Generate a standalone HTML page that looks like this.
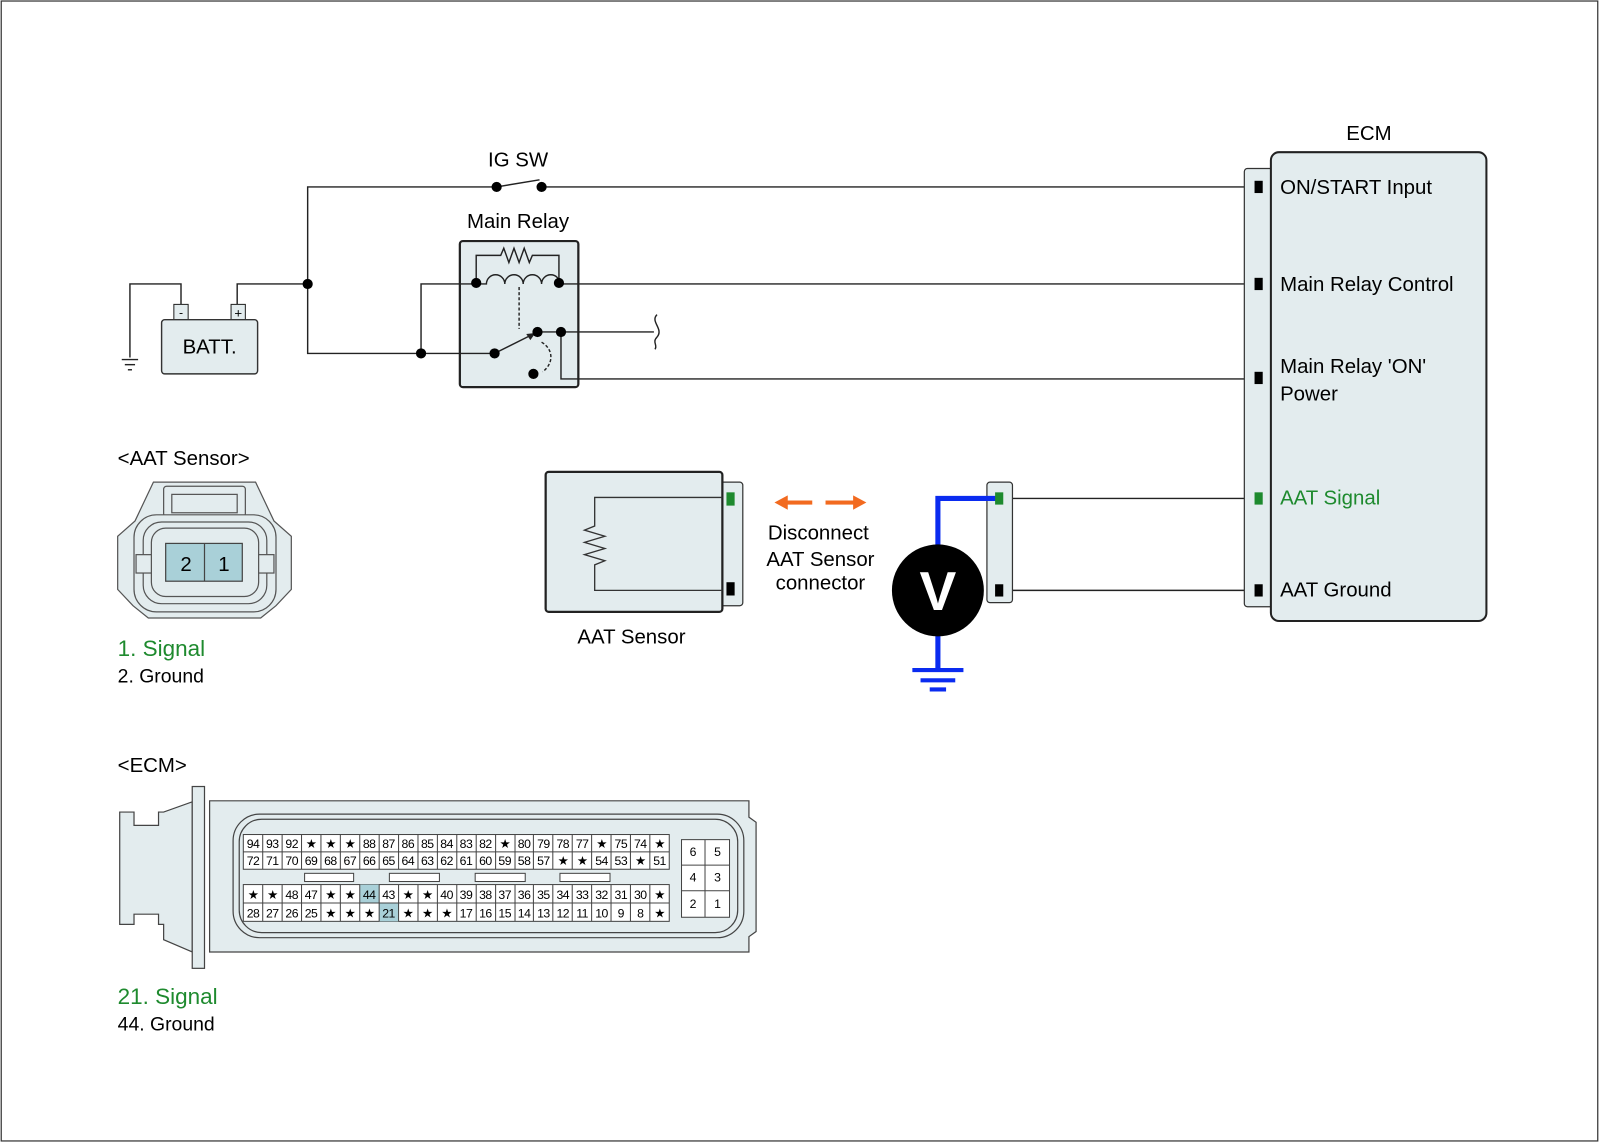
<!DOCTYPE html>
<html><head><meta charset="utf-8"><style>html,body{margin:0;padding:0;background:#fff}svg{display:block}</style></head><body>
<svg width="1600" height="1143" viewBox="0 0 1566 1119" xmlns="http://www.w3.org/2000/svg" font-family="Liberation Sans, Arial, sans-serif">
<rect x="1" y="1" width="1563" height="1116" fill="#fff" stroke="#333" stroke-width="1.2"/>
<!-- relay box first -->
<rect x="450" y="236" width="116" height="143" rx="3" fill="#e3ecee" stroke="#222" stroke-width="2.2"/>
<g stroke="#222" stroke-width="1.4" fill="none">
<path d="M486,183 H301 V346 H484"/>
<path d="M530,183 H1228"/>
<path d="M486,183 L528,176"/>
<path d="M232,298 V278 H301"/>
<path d="M177,298 V278 H127 V350"/>
<path d="M412,346 V278 H466"/>
<path d="M547,278 H1228"/>
<path d="M549,325 H640"/>
<path d="M643,308 C636,315 650,322 643,330 C638,335 644,338 641,342"/>
<path d="M549,325 V371 H1228"/>
<path d="M982,488 H1228 M982,578 H1228"/>
<path d="M466,277 V250 H490 l3,-7 l5,14 l5,-14 l5,14 l5,-14 l5,14 l3,-7 H547 V277"/>
<path d="M466,278 H476 a9,9 0 0 1 18,0 a9,9 0 0 1 18,0 a9,9 0 0 1 18,0 a9,9 0 0 1 18,0 H547"/>
<path d="M508,281 V322" stroke-dasharray="3,2"/>
<path d="M530,335 C542,342 542,356 531,364" stroke-dasharray="3,2"/>
<path d="M484,346 L522,327"/>
<path d="M549,325 H526"/>
</g>
<g stroke="#222" stroke-width="1.4"><line x1="119" y1="352" x2="135" y2="352"/><line x1="122" y1="357" x2="132" y2="357"/><line x1="125" y1="362" x2="129" y2="362"/></g>
<rect x="170" y="298" width="14" height="15" fill="#e3ecee" stroke="#222"/>
<rect x="226" y="298" width="14" height="15" fill="#e3ecee" stroke="#222"/>
<text x="177" y="310" font-size="12" text-anchor="middle">-</text>
<text x="233" y="311" font-size="13" text-anchor="middle">+</text>
<rect x="158" y="313" width="94" height="53" rx="3" fill="#e3ecee" stroke="#333" stroke-width="1.4"/>
<text x="205" y="346" font-size="20" text-anchor="middle">BATT.</text>
<text x="507" y="163" font-size="20" text-anchor="middle">IG SW</text>
<text x="507" y="223" font-size="20" text-anchor="middle">Main Relay</text>
<path d="M524,326 l-9,1 l4,6 z" fill="#222"/>
<g fill="#000">
<circle cx="301" cy="278" r="5"/><circle cx="412" cy="346" r="5"/>
<circle cx="486" cy="183" r="5"/><circle cx="530" cy="183" r="5"/>
<circle cx="466" cy="277" r="5"/><circle cx="547" cy="277" r="5"/>
<circle cx="484" cy="346" r="5"/><circle cx="526" cy="325" r="5"/><circle cx="549" cy="325" r="5"/><circle cx="522" cy="366" r="5"/>
</g>
<!-- ECM -->
<text x="1340" y="137" font-size="20" text-anchor="middle">ECM</text>
<rect x="1218" y="165" width="28" height="429" rx="3" fill="#e3ecee" stroke="#333" stroke-width="1.2"/>
<rect x="1244" y="149" width="211" height="459" rx="8" fill="#e3ecee" stroke="#222" stroke-width="2"/>
<g fill="#000"><rect x="1228" y="177" width="8" height="12"/><rect x="1228" y="272" width="8" height="12"/><rect x="1228" y="364" width="8" height="12"/><rect x="1228" y="572" width="8" height="12"/></g>
<rect x="1228" y="482" width="8" height="12" fill="#1e8a2e"/>
<g font-size="20"><text x="1253" y="190">ON/START Input</text><text x="1253" y="285">Main Relay Control</text><text x="1253" y="365">Main Relay 'ON'</text><text x="1253" y="392">Power</text><text x="1253" y="494" fill="#1e8a2e">AAT Signal</text><text x="1253" y="584">AAT Ground</text></g>
<!-- AAT sensor -->
<rect x="705" y="472" width="22" height="121" rx="3" fill="#e3ecee" stroke="#333" stroke-width="1.2"/>
<rect x="534" y="462" width="173" height="137" rx="3" fill="#e3ecee" stroke="#222" stroke-width="2.2"/>
<path d="M707,487 H582 V515 l-10,4 l20,6 l-20,6 l20,6 l-20,6 l20,6 l-10,4 V578 H707" stroke="#333" stroke-width="1.3" fill="none"/>
<rect x="711" y="482" width="8" height="13" fill="#1e8a2e"/><rect x="711" y="570" width="8" height="13" fill="#000"/>
<text x="618" y="630" font-size="20" text-anchor="middle">AAT Sensor</text>
<g fill="#f26a1f"><rect x="770" y="490" width="25" height="4"/><path d="M758,492 l13,-7 v14 z"/><rect x="808" y="490" width="28" height="4"/><path d="M848,492 l-13,-7 v14 z"/></g>
<g font-size="20" text-anchor="middle"><text x="801" y="528">Disconnect</text><text x="803" y="554">AAT Sensor</text><text x="803" y="577">connector</text></g>
<!-- voltmeter -->
<rect x="966" y="472" width="25" height="118" rx="3" fill="#e3ecee" stroke="#333" stroke-width="1.2"/>
<path d="M918,535 V488 H978" stroke="#0a2bf0" stroke-width="5" fill="none"/>
<path d="M918,620 V656" stroke="#0a2bf0" stroke-width="5"/>
<g stroke="#0a2bf0" stroke-width="4"><line x1="893" y1="656" x2="943" y2="656"/><line x1="901" y1="666" x2="935" y2="666"/><line x1="910" y1="675" x2="926" y2="675"/></g>
<rect x="974" y="482" width="8" height="12" fill="#1e8a2e"/><rect x="974" y="572" width="8" height="12" fill="#000"/>
<circle cx="918" cy="578" r="45" fill="#000"/>
<text x="918" y="597" font-size="54" font-weight="bold" fill="#fff" text-anchor="middle">V</text>
<!-- AAT connector view -->
<text x="115" y="455" font-size="20">&lt;AAT Sensor&gt;</text>
<g fill="#e3ecee" stroke="#555" stroke-width="1.2">
<path d="M150,472 H250 L268,510 L285,525 V577 L270,593 L255,605 H145 L130,593 L115,577 V525 L132,510 Z"/>
<rect x="160" y="476" width="80" height="30" rx="3"/>
<rect x="168" y="484" width="64" height="18"/>
<rect x="131" y="504" width="139" height="95" rx="22"/>
<rect x="140" y="511" width="121" height="80" rx="18"/>
<rect x="148" y="517" width="105" height="67" rx="14"/>
<rect x="133" y="543" width="15" height="18"/><rect x="253" y="543" width="15" height="18"/>
</g>
<rect x="162" y="532" width="75" height="37" fill="#a9d0d8" stroke="#444" stroke-width="1.2"/>
<line x1="200" y1="532" x2="200" y2="569" stroke="#444" stroke-width="1.2"/>
<text x="182" y="559" font-size="20" text-anchor="middle">2</text><text x="219" y="559" font-size="20" text-anchor="middle">1</text>
<text x="115" y="642" font-size="22" fill="#1e8a2e">1. Signal</text>
<text x="115" y="668" font-size="19">2. Ground</text>
<!-- ECM connector -->
<text x="115" y="756" font-size="20">&lt;ECM&gt;</text>
<g fill="#e3ecee" stroke="#444" stroke-width="1.2">
<path d="M117,795 H131 V808 H155 V795 H160 L188,785 V932 L160,920 V905 H155 V895 H131 V905 H117 Z"/>
<rect x="188" y="770" width="12" height="178"/>
<path d="M205,784 H733 V800 L740,805 V912 L733,917 V932 H205 Z"/>
<rect x="228" y="797" width="500" height="121" rx="26" fill="none"/>
<rect x="234" y="802" width="488" height="111" rx="22" fill="none"/>
</g>
<rect x="238" y="817" width="417" height="34" fill="#fff" stroke="#444"/>
<rect x="238" y="866" width="417" height="36" fill="#fff" stroke="#444"/>
<rect x="352" y="866" width="19" height="18" fill="#a9d0d8"/>
<rect x="371" y="884" width="19" height="18" fill="#a9d0d8"/>
<g fill="#fff" stroke="#444"><rect x="298" y="855" width="48" height="8"/><rect x="381" y="855" width="49" height="8"/><rect x="465" y="855" width="49" height="8"/><rect x="548" y="855" width="49" height="8"/>
<rect x="667" y="822" width="47" height="76"/></g>
<g stroke="#444" stroke-width="1"><line x1="690" y1="822" x2="690" y2="898"/><line x1="667" y1="847" x2="714" y2="847"/><line x1="667" y1="872" x2="714" y2="872"/>
<line x1="238" y1="834" x2="655" y2="834"/><line x1="238" y1="884" x2="655" y2="884"/>
<path d="M257,817V851M276,817V851M295,817V851M314,817V851M333,817V851M352,817V851M371,817V851M390,817V851M409,817V851M428,817V851M447,817V851M466,817V851M485,817V851M504,817V851M522,817V851M541,817V851M560,817V851M579,817V851M598,817V851M617,817V851M636,817V851"/>
<path d="M257,866V902M276,866V902M295,866V902M314,866V902M333,866V902M352,866V902M371,866V902M390,866V902M409,866V902M428,866V902M447,866V902M466,866V902M485,866V902M504,866V902M522,866V902M541,866V902M560,866V902M579,866V902M598,866V902M617,866V902M636,866V902"/>
</g>
<g font-size="12" text-anchor="middle" letter-spacing="-0.5">
<text x="678" y="838">6</text><text x="702" y="838">5</text><text x="678" y="863">4</text><text x="702" y="863">3</text><text x="678" y="889">2</text><text x="702" y="889">1</text>
<text y="830"><tspan x="247.5">94</tspan><tspan x="266.4">93</tspan><tspan x="285.4">92</tspan><tspan x="304.3">★</tspan><tspan x="323.3">★</tspan><tspan x="342.3">★</tspan><tspan x="361.2">88</tspan><tspan x="380.2">87</tspan><tspan x="399.1">86</tspan><tspan x="418.1">85</tspan><tspan x="437">84</tspan><tspan x="456">83</tspan><tspan x="475">82</tspan><tspan x="493.9">★</tspan><tspan x="512.9">80</tspan><tspan x="531.8">79</tspan><tspan x="550.8">78</tspan><tspan x="569.7">77</tspan><tspan x="588.7">★</tspan><tspan x="607.6">75</tspan><tspan x="626.6">74</tspan><tspan x="645.5">★</tspan></text>
<text y="847"><tspan x="247.5">72</tspan><tspan x="266.4">71</tspan><tspan x="285.4">70</tspan><tspan x="304.3">69</tspan><tspan x="323.3">68</tspan><tspan x="342.3">67</tspan><tspan x="361.2">66</tspan><tspan x="380.2">65</tspan><tspan x="399.1">64</tspan><tspan x="418.1">63</tspan><tspan x="437">62</tspan><tspan x="456">61</tspan><tspan x="475">60</tspan><tspan x="493.9">59</tspan><tspan x="512.9">58</tspan><tspan x="531.8">57</tspan><tspan x="550.8">★</tspan><tspan x="569.7">★</tspan><tspan x="588.7">54</tspan><tspan x="607.6">53</tspan><tspan x="626.6">★</tspan><tspan x="645.5">51</tspan></text>
<text y="880"><tspan x="247.5">★</tspan><tspan x="266.4">★</tspan><tspan x="285.4">48</tspan><tspan x="304.3">47</tspan><tspan x="323.3">★</tspan><tspan x="342.3">★</tspan><tspan x="361.2">44</tspan><tspan x="380.2">43</tspan><tspan x="399.1">★</tspan><tspan x="418.1">★</tspan><tspan x="437">40</tspan><tspan x="456">39</tspan><tspan x="475">38</tspan><tspan x="493.9">37</tspan><tspan x="512.9">36</tspan><tspan x="531.8">35</tspan><tspan x="550.8">34</tspan><tspan x="569.7">33</tspan><tspan x="588.7">32</tspan><tspan x="607.6">31</tspan><tspan x="626.6">30</tspan><tspan x="645.5">★</tspan></text>
<text y="898"><tspan x="247.5">28</tspan><tspan x="266.4">27</tspan><tspan x="285.4">26</tspan><tspan x="304.3">25</tspan><tspan x="323.3">★</tspan><tspan x="342.3">★</tspan><tspan x="361.2">★</tspan><tspan x="380.2">21</tspan><tspan x="399.1">★</tspan><tspan x="418.1">★</tspan><tspan x="437">★</tspan><tspan x="456">17</tspan><tspan x="475">16</tspan><tspan x="493.9">15</tspan><tspan x="512.9">14</tspan><tspan x="531.8">13</tspan><tspan x="550.8">12</tspan><tspan x="569.7">11</tspan><tspan x="588.7">10</tspan><tspan x="607.6">9</tspan><tspan x="626.6">8</tspan><tspan x="645.5">★</tspan></text>
</g>
<text x="115" y="983" font-size="22" fill="#1e8a2e">21. Signal</text>
<text x="115" y="1009" font-size="19">44. Ground</text>
</svg>
</body></html>
